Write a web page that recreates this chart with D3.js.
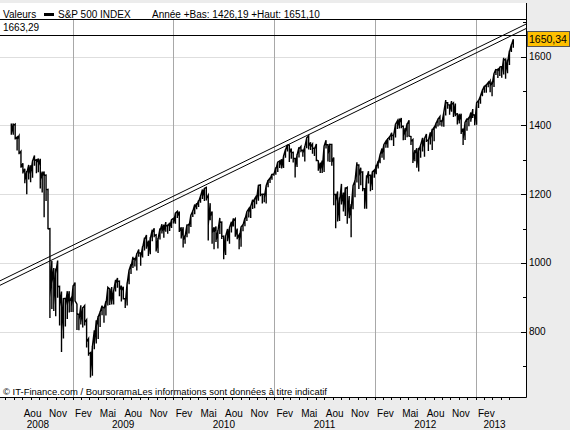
<!DOCTYPE html>
<html lang="fr">
<head>
<meta charset="utf-8">
<title>S&P 500 INDEX</title>
<style>
body { margin: 0; background: #ececec; }
text { font-family: "Liberation Sans", Arial, sans-serif; font-size: 10px; fill: #000; }
.grid-h { stroke: #dedede; }
.grid-v { stroke: #a8a8a8; }
.frame { stroke: #000; }
.series { fill: none; stroke: #000; stroke-width: 1.4; }
.trend { fill: none; stroke: #000; stroke-width: 1; }
</style>
</head>
<body>
<div id="chart"></div>
<script src="https://d3js.org/d3.v7.min.js"></script>
<script>
  // weekly bars, first one ends on this Friday
  var firstWeek = "2008-05-23";

  var weekClose = [
    1376,1400,1361,1360,1318,1278,1263,1239,1261,1258,1260,1296,1298,1292,1283,1242,1252,1255,1213,1099,899,941,877,969,931,873,800,896,876,880,888,873,
    932,890,850,832,826,869,827,770,735,683,757,769,816,843,857,870,866,878,929,883,887,919,940,946,921,919,896,879,940,979,987,1010,1004,1026,1029,1016,1043,1068,1044,1025,1071,1088,1080,1036,1069,1093,1091,1091,1106,1106,1102,1126,1115,
    1145,1136,1092,1074,1066,1076,1109,1104,1139,1150,1160,1167,1178,1194,1192,1217,1187,1111,1136,1088,1089,1065,1092,1118,1077,1023,1078,1065,1103,1102,1122,1079,1072,1065,1105,1110,1126,1149,1146,1165,1176,1183,1183,1226,1199,1200,1189,1225,1240,1244,1257,1258,
    1272,1293,1283,1276,1311,1329,1343,1320,1321,1304,1279,1314,1332,1328,1320,1337,1364,1340,1338,1333,1331,1300,1271,1272,1268,1340,1344,1316,1345,1292,1199,1179,1124,1177,1174,1154,1216,1136,1131,1155,1225,1238,1285,1253,1264,1216,1159,1244,1255,1220,1265,1258,
    1278,1289,1315,1316,1345,1343,1361,1366,1370,1371,1404,1397,1408,1398,1370,1379,1403,1369,1353,1295,1318,1278,1326,1343,1335,1362,1355,1357,1363,1386,1391,1406,1418,1411,1407,1438,1466,1460,1441,1461,1429,1433,1412,1414,1380,1360,1409,1416,1418,1414,1430,1402,
    1466,1472,1486,1503,1513,1518,1520,1516,1518,1551,1561,1557,1569,1553,1589,1555,1582,1614,1634,1650.34
  ];

  var weekHigh = [
    1406,1406,1404,1366,1370,1325,1290,1274,1267,1285,1284,1297,1313,1300,1304,1303,1266,1266,1256,1214,1100,1006,985,984,1007,932,917,897,897,918,918,898,
    935,943,880,851,877,870,876,835,780,739,758,804,833,845,857,876,871,889,930,924,930,920,951,956,947,934,931,896,943,980,996,1018,1013,1027,1039,1029,1048,1074,1081,1065,1075,1097,1101,1082,1072,1101,1113,1111,1119,1110,1117,1127,1130,
    1146,1150,1150,1104,1104,1080,1112,1113,1140,1151,1170,1174,1182,1195,1214,1218,1220,1197,1174,1150,1104,1106,1093,1131,1119,1078,1079,1099,1103,1120,1130,1129,1100,1082,1106,1112,1131,1149,1158,1167,1184,1186,1196,1227,1227,1200,1200,1225,1241,1247,1259,1260,
    1278,1294,1297,1302,1311,1330,1344,1343,1333,1322,1304,1315,1337,1339,1328,1338,1364,1370,1351,1346,1334,1346,1297,1292,1298,1341,1357,1344,1347,1345,1307,1199,1208,1190,1230,1205,1220,1220,1195,1171,1226,1239,1293,1285,1277,1265,1216,1255,1267,1255,1266,1270,
    1285,1297,1316,1333,1346,1354,1362,1368,1379,1372,1405,1414,1420,1422,1398,1392,1406,1415,1368,1359,1328,1334,1335,1343,1364,1363,1375,1358,1380,1390,1395,1407,1419,1426,1414,1438,1474,1466,1460,1471,1466,1464,1434,1434,1434,1391,1410,1420,1423,1438,1448,1431,
    1467,1473,1486,1503,1515,1518,1525,1530,1526,1552,1564,1564,1570,1573,1597,1593,1592,1618,1636,1651.1
  ];

  var weekLow = [
    1373,1373,1359,1327,1316,1277,1260,1232,1200,1243,1235,1248,1283,1261,1264,1217,1205,1133,1180,1098,840,866,860,845,899,818,741,780,815,837,856,857,
    857,888,805,804,821,812,818,754,730,667,672,749,766,779,814,848,826,847,876,878,879,879,917,928,903,888,896,869,876,938,968,985,990,978,1018,992,1016,1036,1041,1020,1025,1063,1075,1033,1029,1068,1086,1073,1091,1085,1093,1102,1115,
    1114,1131,1090,1071,1045,1056,1075,1086,1105,1134,1142,1156,1163,1175,1186,1180,1182,1065,1124,1056,1040,1061,1042,1084,1070,1011,1023,1063,1056,1089,1106,1076,1069,1040,1047,1092,1107,1122,1132,1131,1157,1159,1171,1181,1194,1173,1177,1173,1220,1233,1242,1254,
    1257,1265,1276,1275,1276,1306,1324,1294,1303,1292,1249,1279,1307,1322,1309,1295,1334,1330,1329,1318,1311,1296,1268,1262,1262,1265,1333,1295,1294,1283,1168,1101,1121,1122,1170,1150,1137,1114,1130,1075,1156,1191,1234,1215,1226,1209,1158,1158,1231,1209,1212,1248,
    1258,1275,1290,1306,1300,1335,1335,1357,1357,1340,1365,1390,1391,1392,1357,1358,1366,1367,1343,1291,1296,1277,1266,1306,1324,1309,1352,1326,1345,1329,1354,1391,1397,1400,1397,1396,1429,1449,1431,1440,1425,1427,1403,1406,1375,1343,1358,1385,1398,1411,1422,1401,
    1402,1451,1463,1485,1495,1495,1511,1497,1485,1512,1547,1538,1544,1539,1548,1536,1552,1576,1614,1626
  ];

  var yTicks = [800, 1000, 1200, 1400, 1600];
  var yMinorTicks = [700, 900, 1100, 1300, 1500, 1700];
  var years = [2008, 2009, 2010, 2011, 2012, 2013];
  var monthNames = ["Jan", "Fev", "Mar", "Avr", "Mai", "Jun", "Jul", "Aou", "Sep", "Oct", "Nov", "Dec"];
  var firstLabelMonth = "2008-08-01";
  var lastLabelMonth = "2013-02-01";

  // two parallel resistance lines, value at left and right edge
  var trendUpper = [948, 1695];
  var trendLower = [935, 1682];

  var axisTop = 1663.29;
  var yearLow = 1426.19;
  var yearHigh = 1651.10;

  var parse = d3.timeParse("%Y-%m-%d");
  var fmt = function(v) { return v.toFixed(2).replace(".", ","); };

  var plotRight = 526, plotBottom = 397, headerLine = 19;

  var start = parse(firstWeek);
  var data = weekClose.map(function(c, i) {
    return { date: d3.timeDay.offset(start, 7 * i), close: c, high: weekHigh[i], low: weekLow[i] };
  });
  var lastDate = data[data.length - 1].date;
  var lastClose = weekClose[weekClose.length - 1];

  var x = d3.scaleTime()
    .domain([new Date(2008, 3, 12), new Date(2013, 6, 2)])
    .range([0, plotRight]);
  var y = d3.scaleLinear()
    .domain([800, axisTop])
    .range([331.7, 35]);

  var svg = d3.select("#chart").append("svg")
    .attr("width", 570)
    .attr("height", 430);

  svg.append("rect").attr("width", 570).attr("height", 430).attr("fill", "#ececec");
  svg.append("rect").attr("x", 0).attr("y", 3)
    .attr("width", plotRight).attr("height", plotBottom - 3).attr("fill", "#fff");

  // grid
  svg.selectAll(".grid-h").data(yTicks).enter().append("line")
    .attr("class", "grid-h")
    .attr("x1", 0).attr("x2", plotRight)
    .attr("y1", function(d) { return Math.round(y(d)) + 0.5; })
    .attr("y2", function(d) { return Math.round(y(d)) + 0.5; });

  svg.selectAll(".grid-v").data(years.slice(1)).enter().append("line")
    .attr("class", "grid-v")
    .attr("x1", function(d) { return Math.round(x(new Date(d, 0, 1))) + 0.5; })
    .attr("x2", function(d) { return Math.round(x(new Date(d, 0, 1))) + 0.5; })
    .attr("y1", headerLine).attr("y2", plotBottom);

  // trend lines
  var dom = x.domain();
  [trendUpper, trendLower].forEach(function(t) {
    svg.append("line")
      .attr("class", "trend")
      .attr("x1", x(dom[0])).attr("y1", y(t[0]))
      .attr("x2", x(dom[1])).attr("y2", y(t[1]));
  });

  // price: close to high, down to low, back to close for every week
  var pts = [];
  data.forEach(function(d) {
    pts.push([x(d.date), y(d.high)]);
    pts.push([x(d.date), y(d.low)]);
    pts.push([x(d.date), y(d.close)]);
  });
  svg.append("path")
    .attr("class", "series")
    .attr("d", d3.line()(pts));

  // frame
  svg.append("line").attr("class", "frame")
    .attr("x1", 0).attr("x2", plotRight).attr("y1", headerLine + 0.5).attr("y2", headerLine + 0.5);
  svg.append("line").attr("class", "frame")
    .attr("x1", 0).attr("x2", plotRight)
    .attr("y1", Math.round(y(axisTop)) + 0.5).attr("y2", Math.round(y(axisTop)) + 0.5);
  svg.append("line").attr("class", "frame")
    .attr("x1", 0).attr("x2", plotRight + 0.5).attr("y1", plotBottom + 0.5).attr("y2", plotBottom + 0.5);
  svg.append("line").attr("class", "frame")
    .attr("x1", plotRight + 0.5).attr("x2", plotRight + 0.5).attr("y1", 3).attr("y2", plotBottom + 0.5);

  // right axis
  svg.selectAll(".ytick").data(yTicks).enter().append("line")
    .attr("class", "frame")
    .attr("x1", plotRight - 5).attr("x2", plotRight)
    .attr("y1", function(d) { return Math.round(y(d)) + 0.5; })
    .attr("y2", function(d) { return Math.round(y(d)) + 0.5; });
  svg.selectAll(".yminor").data(yMinorTicks).enter().append("line")
    .attr("class", "frame")
    .attr("x1", plotRight - 3).attr("x2", plotRight)
    .attr("y1", function(d) { return Math.round(y(d)) + 0.5; })
    .attr("y2", function(d) { return Math.round(y(d)) + 0.5; });
  svg.selectAll(".ylabel").data(yTicks).enter().append("text")
    .attr("x", plotRight + 3)
    .attr("y", function(d) { return y(d); })
    .attr("dy", "0.35em")
    .text(function(d) { return d; });

  // last value box
  svg.append("rect")
    .attr("x", plotRight + 1.5).attr("y", Math.round(y(lastClose)) - 7.5)
    .attr("width", 42).attr("height", 15)
    .attr("fill", "#ffc000").attr("stroke", "#555");
  svg.append("text")
    .attr("x", plotRight + 3).attr("y", y(lastClose))
    .attr("dy", "0.35em")
    .style("font-size", "10.5px")
    .text(fmt(lastClose));

  // bottom axis
  var months = d3.timeMonth.range(d3.timeMonth.floor(data[0].date), lastDate);
  svg.selectAll(".xtick").data(months).enter().append("line")
    .attr("class", "frame")
    .attr("x1", function(d) { return Math.round(x(d)) + 0.5; })
    .attr("x2", function(d) { return Math.round(x(d)) + 0.5; })
    .attr("y1", plotBottom).attr("y2", plotBottom + 3);

  // a label every third month, from Aou 2008 to Fev 2013
  var labelled = d3.timeMonth.range(parse(firstLabelMonth), d3.timeDay.offset(parse(lastLabelMonth), 1))
    .filter(function(d, i) { return i % 3 === 0; });
  svg.selectAll(".mlabel").data(labelled).enter().append("text")
    .attr("x", function(d) { return x(d) + 2; })
    .attr("y", 416.5)
    .attr("text-anchor", "middle")
    .text(function(d) { return monthNames[d.getMonth()]; });

  var leftEdge = x.invert(3);
  svg.selectAll(".ylab").data(years).enter().append("text")
    .attr("x", function(d) {
      var a = d3.max([new Date(d, 0, 1), leftEdge]);
      var b = d3.min([new Date(d + 1, 0, 1), lastDate]);
      return (x(a) + x(b)) / 2;
    })
    .attr("y", 427.5)
    .attr("text-anchor", "middle")
    .text(function(d) { return d; });

  // header
  svg.append("text").attr("x", 3).attr("y", 17.5).text("Valeurs");
  svg.append("rect").attr("x", 44).attr("y", 13).attr("width", 10).attr("height", 3).attr("fill", "#000");
  svg.append("text").attr("x", 58).attr("y", 17.5).text("S&P 500 INDEX");
  svg.append("text").attr("x", 152).attr("y", 17.5)
    .text("Année +Bas: " + fmt(yearLow) + " +Haut: " + fmt(yearHigh));
  svg.append("text").attr("x", 3).attr("y", 30.5).text(fmt(axisTop));

  // footer
  svg.append("text").attr("x", 3).attr("y", 395)
    .attr("textLength", 324).attr("lengthAdjust", "spacingAndGlyphs")
    .style("font-size", "9px")
    .text("\u00a9 IT-Finance.com / BoursoramaLes informations sont données à titre indicatif");
</script>
</body>
</html>
